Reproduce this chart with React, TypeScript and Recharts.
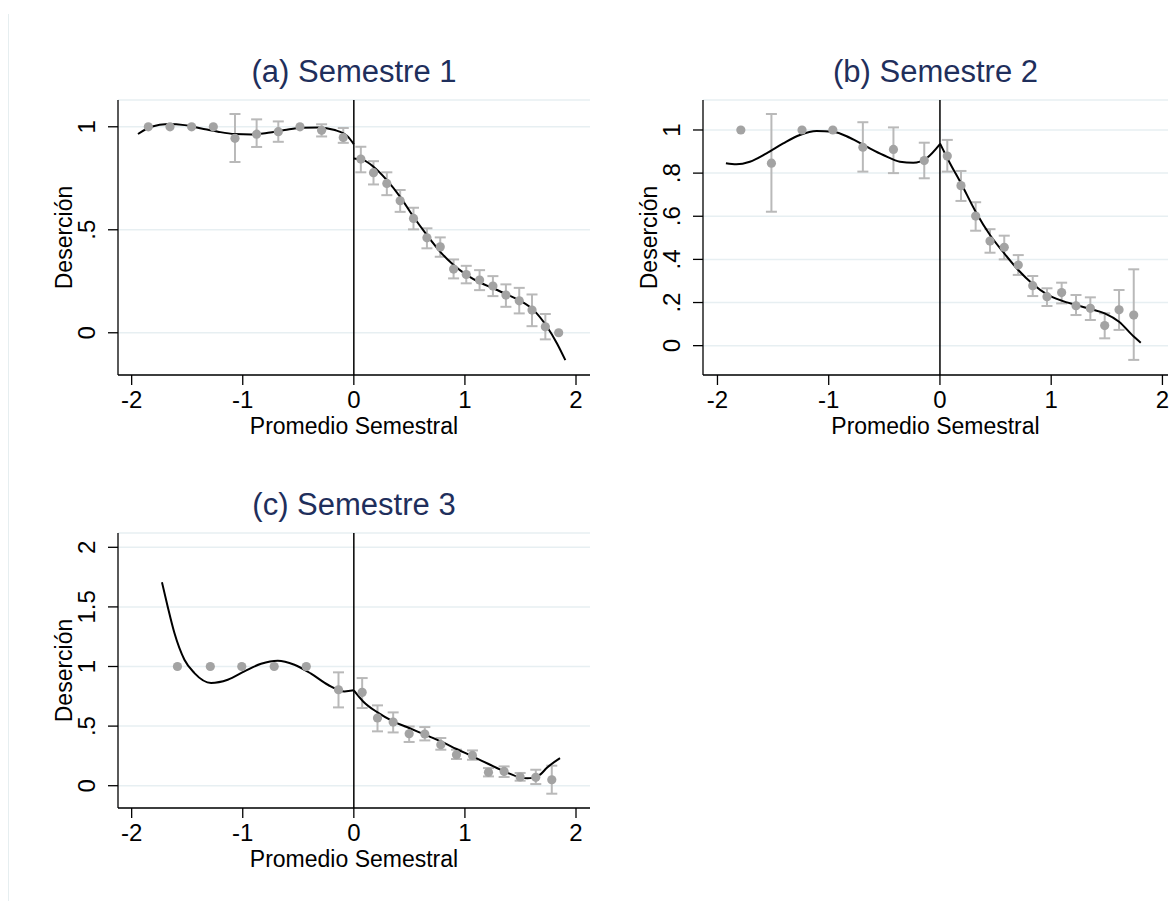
import React from 'react';
import { ComposedChart, Scatter, Line, XAxis, YAxis, CartesianGrid, ReferenceLine, ErrorBar } from 'recharts';

// (a) Semestre 1 — binned means with 95% CI, and the polynomial fit on each side of the cutoff
const binsAx = [-1.85, -1.655, -1.46, -1.265, -1.07, -0.875, -0.68, -0.485, -0.29, -0.095, 0.063, 0.177, 0.297, 0.417, 0.537, 0.658, 0.778, 0.898, 1.012, 1.132, 1.252, 1.369, 1.489, 1.604, 1.724, 1.844];
const binsAy = [1, 1, 1, 1, 0.944, 0.964, 0.976, 1, 0.983, 0.948, 0.843, 0.777, 0.725, 0.641, 0.555, 0.461, 0.417, 0.309, 0.283, 0.256, 0.227, 0.183, 0.155, 0.11, 0.029, 0];
const binsAlo = [null, null, null, null, 0.829, 0.902, 0.927, null, 0.953, 0.922, 0.779, 0.72, 0.668, 0.587, 0.502, 0.41, 0.369, 0.264, 0.24, 0.207, 0.178, 0.126, 0.094, 0.032, -0.032, null];
const binsAhi = [null, null, null, null, 1.062, 1.036, 1.026, null, 1.012, 0.994, 0.903, 0.833, 0.779, 0.693, 0.607, 0.507, 0.463, 0.356, 0.325, 0.304, 0.275, 0.235, 0.218, 0.186, 0.091, null];
const fitALx = [-1.943, -1.823, -1.673, -1.523, -1.373, -1.223, -1.072, -0.922, -0.772, -0.622, -0.472, -0.322, -0.171, -0.051, 0];
const fitALy = [0.965, 1.0, 1.013, 1.008, 0.992, 0.976, 0.965, 0.963, 0.971, 0.984, 0.995, 0.997, 0.984, 0.951, 0.915];
const fitARx = [0, 0.087, 0.177, 0.297, 0.417, 0.537, 0.658, 0.778, 0.898, 1.018, 1.138, 1.258, 1.378, 1.498, 1.618, 1.739, 1.829, 1.904];
const fitARy = [0.846, 0.838, 0.806, 0.741, 0.66, 0.563, 0.474, 0.393, 0.329, 0.28, 0.243, 0.215, 0.186, 0.155, 0.11, 0.029, -0.052, -0.133];

// (b) Semestre 2
const binsBx = [-1.79, -1.515, -1.24, -0.963, -0.693, -0.418, -0.141, 0.066, 0.189, 0.321, 0.45, 0.578, 0.704, 0.834, 0.962, 1.094, 1.223, 1.352, 1.481, 1.61, 1.742];
const binsBy = [1, 0.846, 1, 1, 0.92, 0.91, 0.858, 0.879, 0.742, 0.601, 0.485, 0.456, 0.374, 0.278, 0.227, 0.246, 0.185, 0.173, 0.093, 0.166, 0.142];
const binsBlo = [null, 0.621, null, null, 0.807, 0.8, 0.776, 0.807, 0.671, 0.533, 0.431, 0.4, 0.328, 0.23, 0.184, 0.196, 0.142, 0.119, 0.034, 0.073, -0.066];
const binsBhi = [null, 1.074, null, null, 1.036, 1.012, 0.941, 0.954, 0.81, 0.665, 0.54, 0.51, 0.42, 0.323, 0.266, 0.292, 0.235, 0.224, 0.15, 0.258, 0.354];
const fitBLx = [-1.924, -1.83, -1.709, -1.559, -1.409, -1.259, -1.109, -0.96, -0.81, -0.66, -0.51, -0.36, -0.24, -0.12, 0];
const fitBLy = [0.846, 0.841, 0.853, 0.892, 0.938, 0.977, 0.995, 0.992, 0.964, 0.923, 0.884, 0.853, 0.848, 0.869, 0.934];
const fitBRx = [0, 0.09, 0.189, 0.321, 0.45, 0.578, 0.704, 0.834, 0.962, 1.094, 1.223, 1.352, 1.481, 1.61, 1.742, 1.805];
const fitBRy = [0.938, 0.846, 0.753, 0.621, 0.513, 0.428, 0.351, 0.286, 0.238, 0.209, 0.189, 0.17, 0.15, 0.111, 0.042, 0.014];

// (c) Semestre 3
const binsCx = [-1.588, -1.292, -1.009, -0.717, -0.428, -0.138, 0.075, 0.213, 0.354, 0.498, 0.639, 0.783, 0.924, 1.068, 1.212, 1.353, 1.497, 1.638, 1.782];
const binsCy = [1, 1, 1, 1, 1, 0.805, 0.783, 0.568, 0.534, 0.436, 0.434, 0.344, 0.26, 0.254, 0.112, 0.12, 0.073, 0.07, 0.05];
const binsClo = [null, null, null, null, null, 0.657, 0.652, 0.456, 0.447, 0.367, 0.38, 0.302, 0.224, 0.218, 0.078, 0.073, 0.042, 0.014, -0.067];
const binsChi = [null, null, null, null, null, 0.951, 0.903, 0.674, 0.615, 0.497, 0.492, 0.4, 0.302, 0.296, 0.148, 0.162, 0.107, 0.134, 0.168];
const fitCLx = [-1.727, -1.676, -1.615, -1.525, -1.435, -1.285, -1.135, -0.985, -0.835, -0.685, -0.535, -0.385, -0.234, -0.084, 0];
const fitCLy = [1.706, 1.504, 1.281, 1.057, 0.945, 0.862, 0.889, 0.959, 1.023, 1.049, 1.015, 0.94, 0.847, 0.791, 0.8];
const fitCRx = [0, 0.084, 0.213, 0.354, 0.498, 0.639, 0.783, 0.925, 1.069, 1.213, 1.354, 1.498, 1.56, 1.616, 1.68, 1.736, 1.856];
const fitCRy = [0.8, 0.707, 0.615, 0.54, 0.484, 0.428, 0.372, 0.308, 0.246, 0.182, 0.12, 0.07, 0.062, 0.068, 0.095, 0.148, 0.232];

const xTicks = [-2, -1, 0, 1, 2];
const yTicksA = [0, 0.5, 1];
const yTicksB = [0, 0.2, 0.4, 0.6, 0.8, 1];
const yTicksC = [0, 0.5, 1, 1.5, 2];

const FONT = 'Arial, "Liberation Sans", Helvetica, sans-serif';
const TITLE_COLOR = '#1f2f5c';
const DOT = '#a3a3a3';
const CI = '#b9b9b9';
const GRID = '#e7eff2';
const TICK_FS = 24;
const LABEL_FS = 23;

type Bin = { x: number; y: number; err?: [number, number] };

function makeBins(xs: number[], ys: number[], lo: (number | null)[], hi: (number | null)[]): Bin[] {
  return xs.map((x, i) => {
    const b: Bin = { x, y: ys[i] };
    if (lo[i] != null && hi[i] != null) b.err = [ys[i] - (lo[i] as number), (hi[i] as number) - ys[i]];
    return b;
  });
}

function makeFit(xs: number[], ys: number[]) {
  return xs.map((x, i) => ({ x, y: ys[i] }));
}

const fmtY = (v: number) => String(v).replace(/^0\./, '.');

const YTick = (props: any) => {
  const { x, y, payload } = props;
  return (
    <text x={x} y={y} transform={`rotate(-90 ${x} ${y})`} textAnchor="middle" fill="#000" fontSize={TICK_FS} fontFamily={FONT}>
      {fmtY(payload.value)}
    </text>
  );
};

const Dot = (p: any) => <circle cx={p.cx} cy={p.cy} r={4.6} fill={DOT} />;
const NoShape = () => <g />;

interface PanelProps {
  title: string;
  left: number;
  top: number;
  width: number;
  marginRight: number;
  xDomain: [number, number];
  yDomain: [number, number];
  yTicks: number[];
  bins: Bin[];
  fitL: { x: number; y: number }[];
  fitR: { x: number; y: number }[];
}

function Panel({ title, left, top, width, marginRight, xDomain, yDomain, yTicks, bins, fitL, fitR }: PanelProps) {
  const height = 420;
  const plotLeft = 78;
  const plotW = width - plotLeft - marginRight;
  const withErr = bins.filter((b) => b.err);
  return (
    <div style={{ position: 'absolute', left, top, width, height, fontFamily: FONT }}>
      <div
        style={{
          position: 'absolute',
          left: plotLeft,
          width: plotW,
          top: 6,
          textAlign: 'center',
          fontSize: 31,
          lineHeight: '31px',
          color: TITLE_COLOR,
          whiteSpace: 'nowrap',
        }}
      >
        {title}
      </div>
      <ComposedChart width={width} height={height} margin={{ top: 50, right: marginRight, left: 18, bottom: 15 }}>
        <CartesianGrid vertical={false} stroke={GRID} strokeWidth={1.5} />
        <XAxis
          type="number"
          dataKey="x"
          domain={xDomain}
          ticks={xTicks}
          allowDataOverflow
          height={80}
          tickSize={10}
          tickMargin={6}
          stroke="#000"
          axisLine={{ stroke: '#000', strokeWidth: 1.3 }}
          tickLine={{ stroke: '#000', strokeWidth: 1.3 }}
          tick={{ fill: '#000', fontSize: TICK_FS, fontFamily: FONT }}
          label={{ value: 'Promedio Semestral', position: 'insideTop', offset: 43, fill: '#000', fontSize: LABEL_FS, fontFamily: FONT }}
        />
        <YAxis
          type="number"
          dataKey="y"
          domain={yDomain}
          ticks={yTicks}
          allowDataOverflow
          width={60}
          tickSize={10}
          tickMargin={13}
          axisLine={{ stroke: '#000', strokeWidth: 1.3 }}
          tickLine={{ stroke: '#000', strokeWidth: 1.3 }}
          tick={YTick}
          label={{
            value: 'Deserción',
            angle: -90,
            position: 'insideLeft',
            offset: 6,
            fill: '#000',
            fontSize: LABEL_FS,
            fontFamily: FONT,
            style: { textAnchor: 'middle' },
          }}
        />
        <ReferenceLine x={0} stroke="#000" strokeWidth={1.5} />
        <Scatter data={withErr} dataKey="y" shape={NoShape} isAnimationActive={false}>
          <ErrorBar dataKey="err" direction="y" width={5.5} stroke={CI} strokeWidth={2} />
        </Scatter>
        <Scatter data={bins} dataKey="y" fill={DOT} shape={Dot} isAnimationActive={false} />
        <Line data={fitL} dataKey="y" type="monotone" stroke="#000" strokeWidth={2} dot={false} isAnimationActive={false} />
        <Line data={fitR} dataKey="y" type="monotone" stroke="#000" strokeWidth={2} dot={false} isAnimationActive={false} />
      </ComposedChart>
    </div>
  );
}

export default function App() {
  return (
    <div style={{ position: 'absolute', left: 0, top: 0, width: 1169, height: 915, background: '#fff' }}>
      <div style={{ position: 'absolute', left: 8, top: 14, height: 887, borderLeft: '1px solid #e6eef0' }} />
      <Panel
        title="(a) Semestre 1"
        left={40}
        top={50}
        width={570}
        marginRight={20}
        xDomain={[-2.123, 2.126]}
        yDomain={[-0.205, 1.13]}
        yTicks={yTicksA}
        bins={makeBins(binsAx, binsAy, binsAlo, binsAhi)}
        fitL={makeFit(fitALx, fitALy)}
        fitR={makeFit(fitARx, fitARy)}
      />
      <Panel
        title="(b) Semestre 2"
        left={625}
        top={50}
        width={544}
        marginRight={1}
        xDomain={[-2.13, 2.05]}
        yDomain={[-0.136, 1.139]}
        yTicks={yTicksB}
        bins={makeBins(binsBx, binsBy, binsBlo, binsBhi)}
        fitL={makeFit(fitBLx, fitBLy)}
        fitR={makeFit(fitBRx, fitBRy)}
      />
      <Panel
        title="(c) Semestre 3"
        left={40}
        top={483}
        width={570}
        marginRight={20}
        xDomain={[-2.123, 2.126]}
        yDomain={[-0.187, 2.12]}
        yTicks={yTicksC}
        bins={makeBins(binsCx, binsCy, binsClo, binsChi)}
        fitL={makeFit(fitCLx, fitCLy)}
        fitR={makeFit(fitCRx, fitCRy)}
      />
    </div>
  );
}
